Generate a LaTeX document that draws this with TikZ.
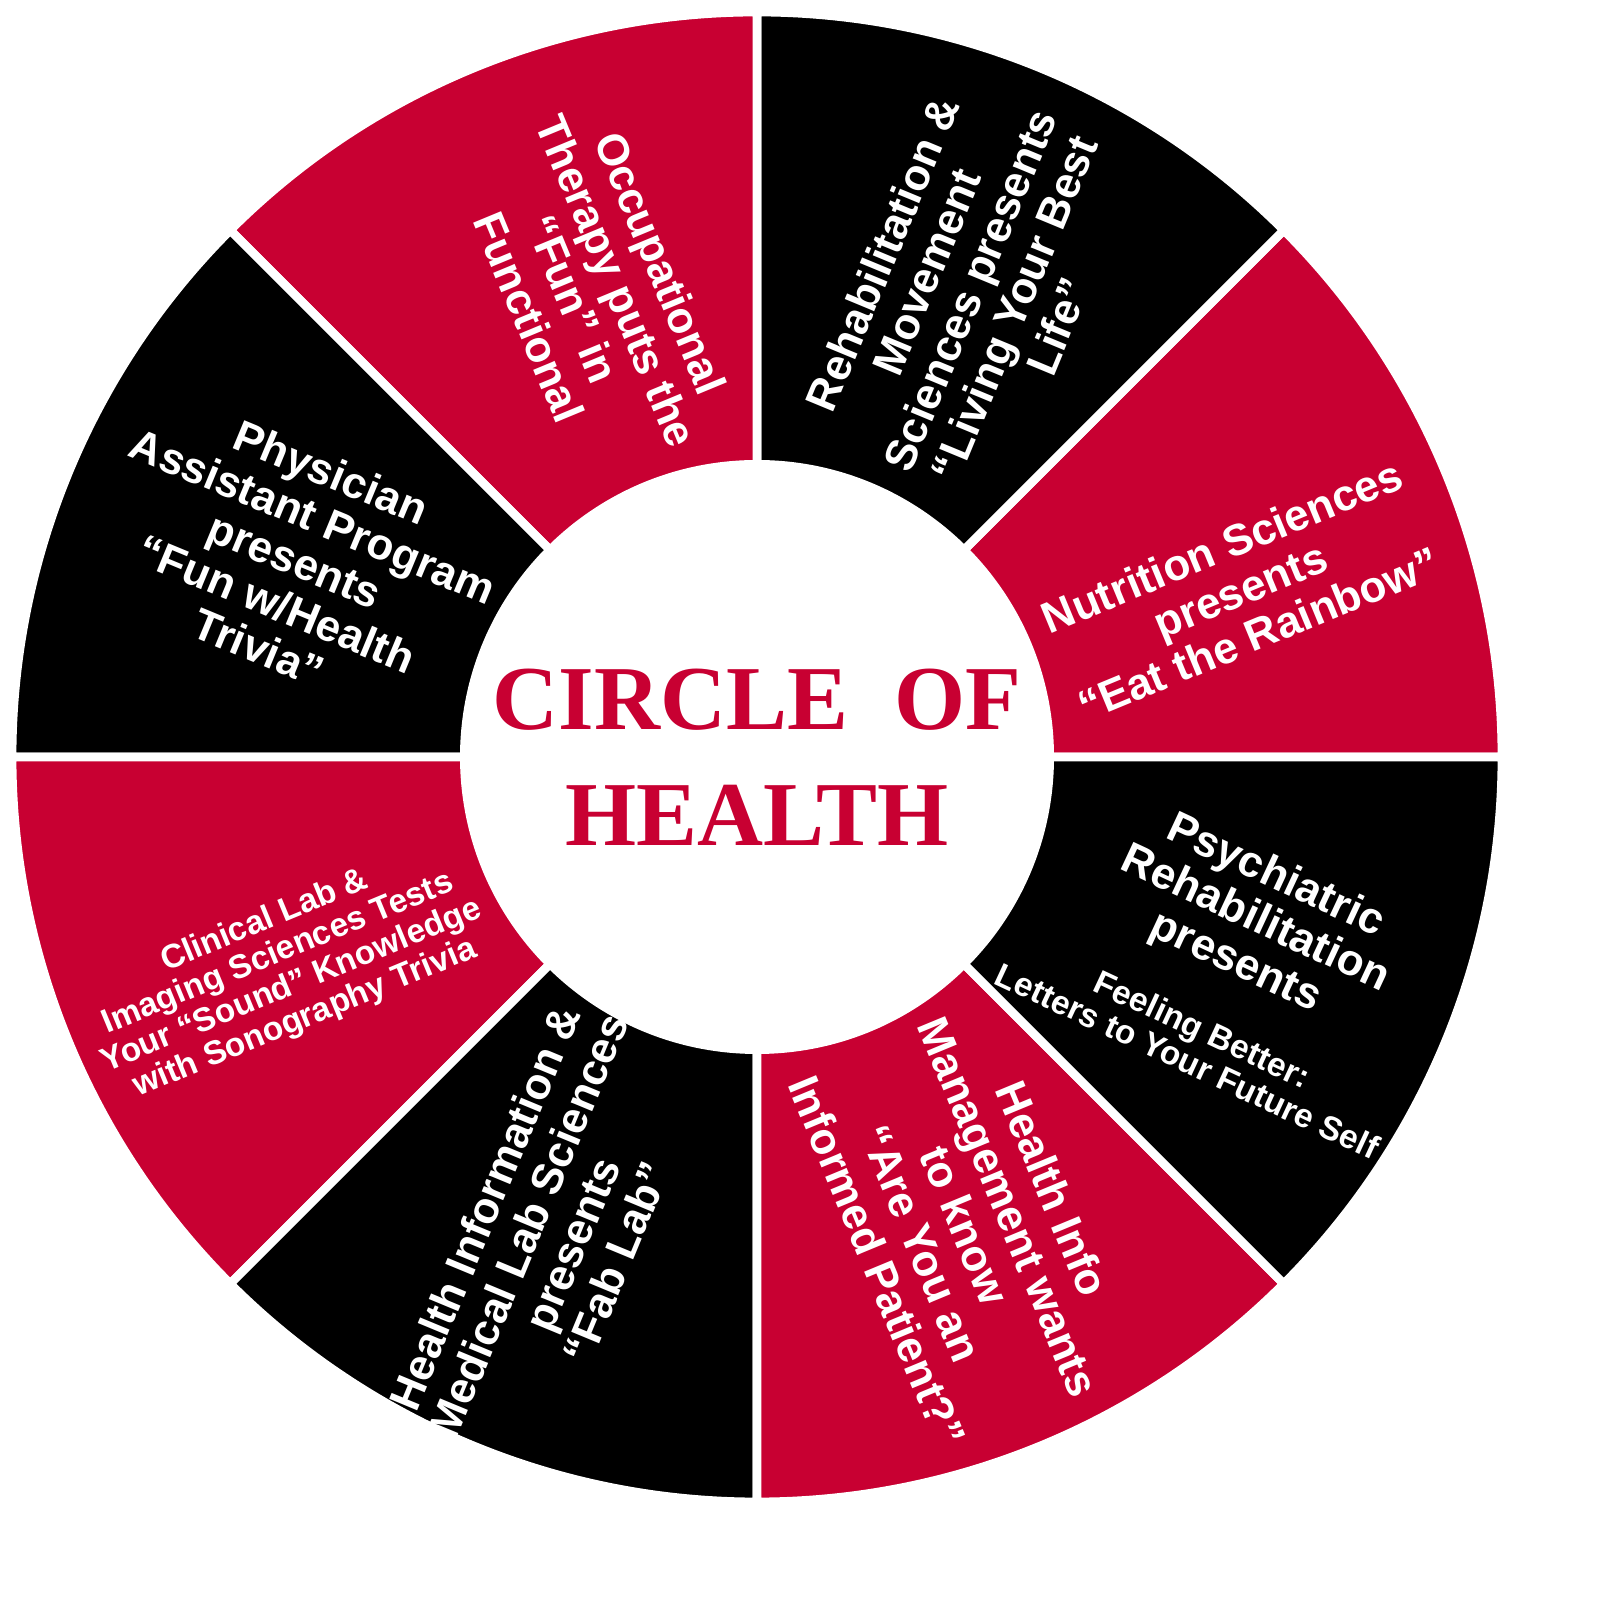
\documentclass[tikz,border=0pt]{standalone}
\usepackage{fontspec}
\setmainfont{Liberation Sans}
\newfontfamily\titlefont{Liberation Serif}
\definecolor{hred}{RGB}{200,0,50}
\tikzset{wedge/.style={draw=white, line width=2.5pt},
  lbl/.style={text=white, font=\bfseries\fontsize{12.5}{13.5}\selectfont, align=center, inner sep=0pt},
  small/.style={lbl, font=\bfseries\fontsize{9.5}{10}\selectfont}}
\begin{document}
\begin{tikzpicture}
\coordinate (c) at (7.57,8.43);
% wedges, red and black in turn
\foreach \a/\col in {0/hred,45/black,90/hred,135/black,180/hred,225/black,270/hred,315/black}
  \fill[\col, wedge] (c) -- ++(\a:7.45) arc (\a:\a+45:7.45) -- cycle;
\node[circle, fill=white, minimum size=5.94cm, inner sep=0pt] (hub) at (c) {};
\node[text=hred, font=\titlefont\bfseries\fontsize{26}{33}\selectfont, align=center] (title) at (c)
  {CIRCLE\enspace OF\\HEALTH};
% labels
\node[lbl, rotate=-67.5] (ot) at (5.95,13.1) {Occupational\\Therapy puts the\\``Fun'' in\\Functional};
\node[lbl, rotate=67.5] (rm) at (9.7,13.1) {Rehabilitation \&\\Movement\\Sciences presents\\``Living Your Best\\Life''};
\node[lbl, rotate=22.5] (ns) at (12.4,10.1) {Nutrition Sciences\\presents\\``Eat the Rainbow''};
\node[lbl, rotate=-25] (pr) at (12.55,6.8) {Psychiatric\\Rehabilitation\\presents};
\node[small, rotate=-25] (fb) at (11.95,5.55) {Feeling Better:\\Letters to Your Future Self};
\node[lbl, rotate=-67.5] (hi) at (9.65,3.75) {Health Info\\Management wants\\to know\\``Are You an\\Informed Patient?''};
\node[lbl, rotate=67.5] (hm) at (5.5,3.65) {Health Information \&\\Medical Lab Sciences\\presents\\``Fab Lab''};
\node[small, rotate=22.5] (cl) at (2.85,6.3) {Clinical Lab \&\\Imaging Sciences Tests\\Your ``Sound'' Knowledge\\with Sonography Trivia};
\node[lbl, rotate=-22.5] (pa) at (2.95,10.4) {Physician\\Assistant Program\\presents\\``Fun w/Health\\Trivia''};
\pgfresetboundingbox
\useasboundingbox (0,0) rectangle (16,16);
\end{tikzpicture}
\end{document}
